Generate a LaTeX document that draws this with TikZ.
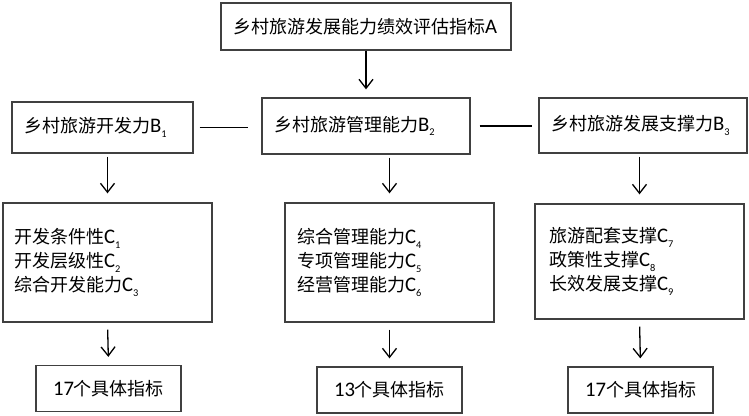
\documentclass[tikz,border=0pt]{standalone}
\usepackage{fontspec}
\setmainfont{Noto Sans CJK SC}
\newfontfamily\lat[Scale=1.15]{Carlito}
\usetikzlibrary{arrows.meta}
\newcommand\subidx[1]{\raisebox{-0.45ex}{\fontsize{9}{10}\selectfont #1}}
\tikzset{
    blk/.style={draw=black!75, line width=1.3pt, align=left, inner xsep=12pt, inner ysep=0pt,
        text width=#1, font=\fontsize{18}{24}\selectfont},
    numbox/.style={draw=black!75, line width=1.3pt, minimum width=145pt, minimum height=46pt,
        inner sep=0pt, font=\fontsize{18}{24}\selectfont},
    arr/.style={-{Straight Barb[length=9pt,width=14pt]}, line width=1.3pt},
}
\begin{document}
\begin{tikzpicture}[x=1pt, y=-1pt]
            \useasboundingbox (0,0) rectangle (749,415);
            % top level
            \node[blk=266pt, minimum height=47pt] (A) at (366,26.5) {乡村旅游发展能力绩效评估指标{\lat A}};
            % B level
            \node[blk=157pt, minimum height=51pt] (B1) at (102.5,127.5) {乡村旅游开发力{\lat B\subidx{1}}};
            \node[blk=184pt, minimum height=56pt] (B2) at (366,126) {乡村旅游管理能力{\lat B\subidx{2}}};
            \node[blk=184pt, minimum height=55pt] (B3) at (643,125.5) {乡村旅游发展支撑力{\lat B\subidx{3}}};
            % C level
            \node[blk=187pt, inner xsep=11pt, minimum height=119pt] (C1) at (107.5,262.5) {
                开发条件性{\lat C\subidx{1}}\\
                开发层级性{\lat C\subidx{2}}\\
                综合开发能力{\lat C\subidx{3}}
            };
            \node[blk=185pt, minimum height=119pt] (C2) at (389.5,262.5) {
                综合管理能力{\lat C\subidx{4}}\\
                专项管理能力{\lat C\subidx{5}}\\
                经营管理能力{\lat C\subidx{6}}
            };
            \node[blk=181pt, inner xsep=14pt, minimum height=115pt] (C3) at (639.5,261.5) {
                旅游配套支撑{\lat C\subidx{7}}\\
                政策性支撑{\lat C\subidx{8}}\\
                长效发展支撑{\lat C\subidx{9}}
            };
            % counts
            \node[numbox] (D1) at (108.5,388.5) {{\lat 17}个具体指标};
            \node[numbox] (D2) at (389.5,390) {{\lat 13}个具体指标};
            \node[numbox] (D3) at (640.5,390) {{\lat 17}个具体指标};
            % connectors
            \draw[arr, shorten >=8pt] (A.south) -- (B2.north);
            \draw[line width=1.3pt, shorten <=6pt, shorten >=13pt] (B1.east) -- (B1.east -| B2.west);
            \draw[line width=1.3pt, shorten <=9pt, shorten >=6pt] (B2.east) -- (B2.east -| B3.west);
            \foreach \i in {1,2,3} {
                \draw[arr, shorten <=3pt, shorten >=9pt] (C\i.north |- B\i.south) -- (C\i.north);
                \draw[arr, shorten <=7pt, shorten >=8pt] (C\i.south) -- (D\i.north);
            }
        \end{tikzpicture}
\end{document}
